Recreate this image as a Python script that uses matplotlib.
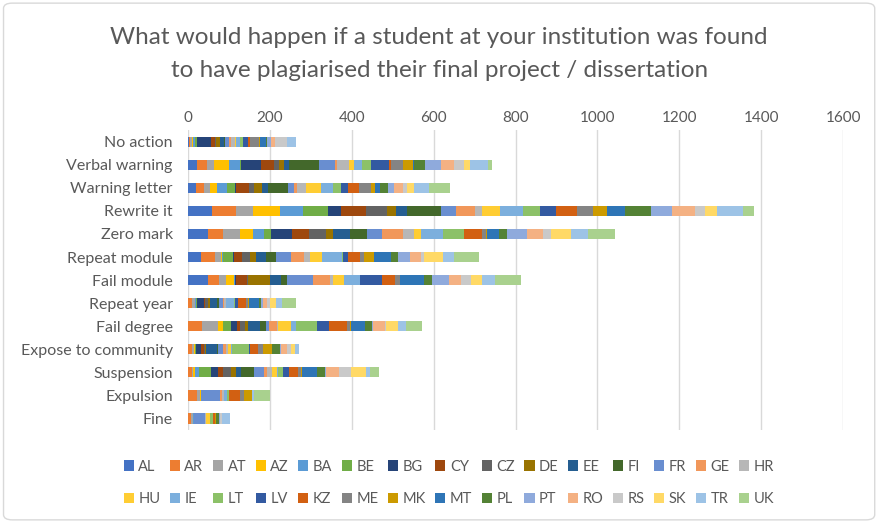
import numpy as np
import matplotlib
matplotlib.use("Agg")
import matplotlib.pyplot as plt
from matplotlib.patches import FancyBboxPatch, Patch

plt.rcParams['font.family'] = ['Lato', 'DejaVu Sans']

countries = ['AL', 'AR', 'AT', 'AZ', 'BA', 'BE', 'BG', 'CY', 'CZ', 'DE',
             'EE', 'FI', 'FR', 'GE', 'HR', 'HU', 'IE', 'LT', 'LV', 'KZ',
             'ME', 'MK', 'MT', 'PL', 'PT', 'RO', 'RS', 'SK', 'TR', 'UK']

categories = ['No action', 'Verbal warning', 'Warning letter', 'Rewrite it',
              'Zero mark', 'Repeat module', 'Fail module', 'Repeat year',
              'Fail degree', 'Expose to community', 'Suspension', 'Expulsion', 'Fine']

# one value per country, in the order of `countries`
no_action = [2, 4, 4, 3, 5, 3, 35, 9, 3, 10, 10, 3, 9, 5, 9, 3, 10, 8, 12, 5,
             22, 3, 14, 2, 10, 10, 28, 2, 20, 0]
verbal_warning = [23, 24, 16, 37, 26, 3, 49, 33, 12, 11, 12, 73, 40, 4, 31, 12, 20, 20, 45, 4,
                  31, 24, 3, 27, 39, 30, 24, 15, 44, 11]
warning_letter = [20, 20, 15, 16, 24, 20, 2, 33, 12, 20, 13, 49, 14, 8, 22, 37, 30, 19, 16, 28,
                  28, 11, 13, 18, 16, 20, 11, 16, 38, 51]
rewrite_it = [58, 60, 42, 65, 57, 61, 31, 61, 50, 24, 27, 82, 37, 45, 17, 45, 57, 40, 40, 51,
              38, 35, 45, 63, 50, 57, 24, 30, 63, 27]
zero_mark = [49, 37, 41, 31, 28, 17, 50, 42, 43, 16, 42, 41, 37, 52, 25, 18, 55, 49, 2, 42,
             11, 2, 30, 20, 49, 38, 19, 49, 41, 67]
repeat_module = [31, 36, 13, 3, 3, 24, 3, 20, 19, 14, 24, 24, 37, 33, 15, 28, 49, 2, 14, 27,
                 12, 23, 42, 18, 28, 27, 8, 45, 28, 61]
fail_module = [49, 28, 16, 19, 2, 2, 2, 26, 2, 55, 26, 15, 63, 41, 8, 28, 37, 2, 54, 31,
               11, 2, 58, 20, 41, 28, 24, 27, 34, 62]
repeat_year = [0, 10, 6, 2, 2, 2, 16, 4, 8, 3, 18, 6, 8, 3, 4, 2, 18, 4, 6, 20,
               4, 2, 26, 5, 5, 10, 6, 15, 14, 35]
fail_degree = [0, 35, 39, 12, 0, 20, 14, 8, 11, 7, 29, 15, 9, 18, 3, 31, 12, 51, 30, 45,
               7, 2, 34, 18, 3, 29, 2, 28, 21, 38]
expose = [0, 10, 4, 2, 2, 2, 12, 8, 2, 2, 28, 2, 12, 7, 4, 8, 2, 42, 2, 21,
          12, 20, 2, 18, 2, 16, 10, 10, 10, 0]
suspension = [0, 10, 2, 4, 10, 31, 16, 12, 20, 12, 12, 33, 24, 8, 12, 12, 2, 11, 15, 23,
              7, 2, 38, 19, 2, 33, 28, 37, 10, 22]
expulsion = [0, 22, 8, 3, 0, 0, 0, 0, 0, 0, 0, 0, 46, 3, 6, 0, 8, 3, 0, 27,
             10, 20, 0, 0, 0, 0, 0, 0, 5, 40]
fine = [0, 7, 5, 0, 3, 0, 0, 0, 0, 0, 0, 0, 27, 0, 3, 8, 0, 8, 0, 4,
        0, 3, 0, 8, 3, 0, 4, 0, 20, 0]

rows = [no_action, verbal_warning, warning_letter, rewrite_it, zero_mark, repeat_module,
        fail_module, repeat_year, fail_degree, expose, suspension, expulsion, fine]
data = np.array(rows, dtype=float)  # shape (categories, countries)

# office palette: base, darker, lighter, darker, lighter
colors = ['#4472C4', '#ED7D31', '#A5A5A5', '#FFC000', '#5B9BD5', '#70AD47',
          '#264478', '#9E480E', '#636363', '#997300', '#255E91', '#43682B',
          '#698ED0', '#F1975A', '#B7B7B7', '#FFCD33', '#7CAFDD', '#8CC168',
          '#335AA1', '#D26012', '#848484', '#CC9A00', '#2E75B6', '#548235',
          '#8FAADC', '#F4B183', '#C9C9C9', '#FFD966', '#9DC3E6', '#A9D18E']

text_col = '#595959'

fig = plt.figure(figsize=(8.8, 5.23), dpi=100)
ax = fig.add_axes([0.2136, 0.178, 0.7445, 0.573])

y = np.arange(len(categories))
left = np.zeros(len(categories))
for i, c in enumerate(countries):
    ax.barh(y, data[:, i], left=left, height=0.45, color=colors[i], label=c, zorder=3)
    left += data[:, i]

ax.set_ylim(len(categories) - 0.5, -0.5)
ax.set_xlim(0, 1600)
ax.set_xticks(range(0, 1601, 200))
ax.xaxis.tick_top()
ax.tick_params(axis='x', length=0, labelsize=11, colors=text_col, pad=4)
ax.set_yticks(y)
ax.set_yticklabels(categories)
ax.tick_params(axis='y', length=0, labelsize=11.5, colors=text_col, pad=11)
ax.grid(axis='x', color='#D9D9D9', linewidth=1, zorder=0)
for s in ax.spines.values():
    s.set_visible(False)

fig.text(0.499, 0.929, 'What would happen if a student at your institution was found',
         ha='center', va='center', fontsize=17.5, color=text_col)
fig.text(0.499, 0.866, 'to have plagiarised their final project / dissertation',
         ha='center', va='center', fontsize=17.5, color=text_col)

# legend fills column by column, so interleave the two rows
half = len(countries) // 2
order = [k for j in range(half) for k in (j, j + half)]
handles = [Patch(facecolor=colors[k], label=countries[k]) for k in order]
fig.legend(handles=handles, ncol=half, loc='center', bbox_to_anchor=(0.51, 0.077),
           frameon=False, fontsize=10.5, labelcolor=text_col,
           handlelength=0.7, handleheight=0.7, handletextpad=0.3,
           columnspacing=0.65, labelspacing=1.25)

# light chart-area border
fig.patches.append(FancyBboxPatch((0.004, 0.006), 0.99, 0.988, boxstyle='round,pad=0,rounding_size=0.01',
                                  transform=fig.transFigure, fill=False,
                                  edgecolor='#D9D9D9', linewidth=1))

fig.savefig('out.png', dpi=100, facecolor='white')
